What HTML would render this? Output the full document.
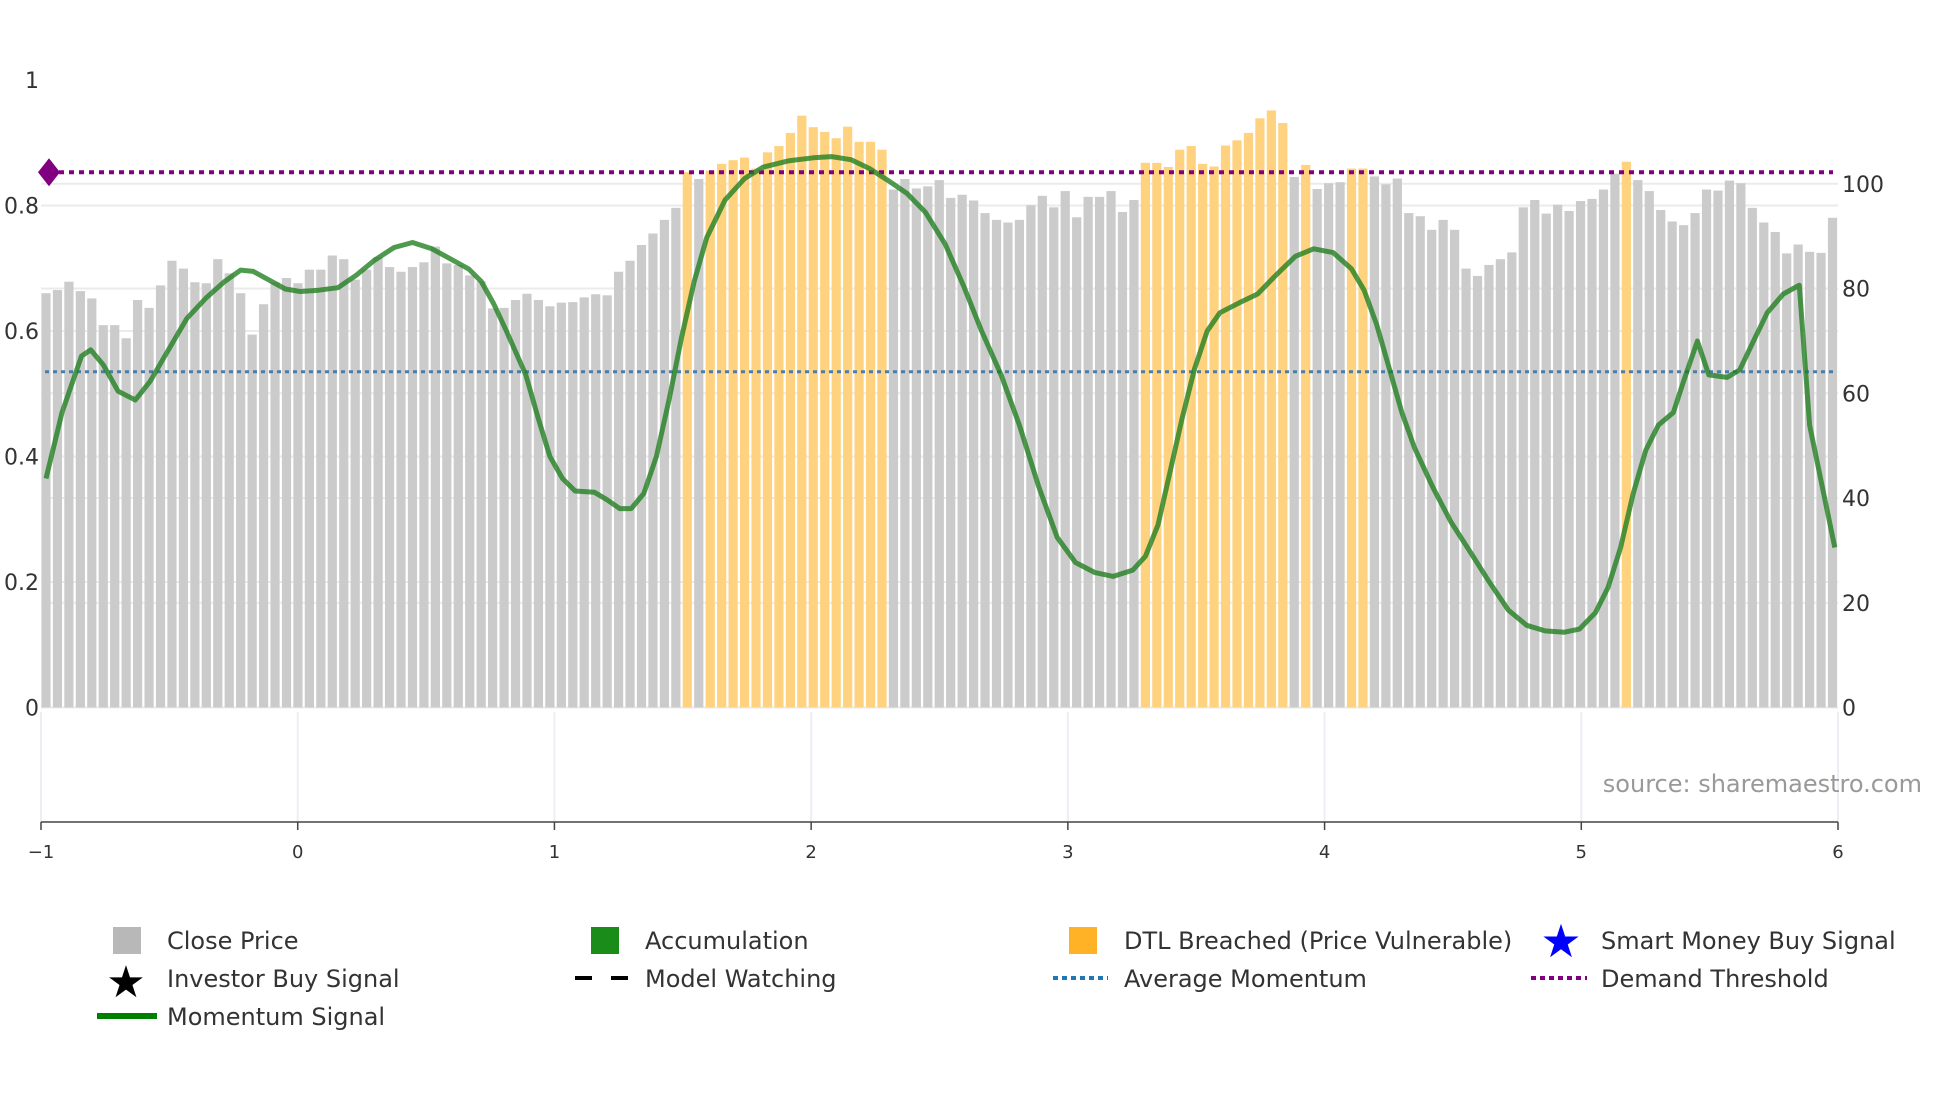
<!DOCTYPE html>
<html><head><meta charset="utf-8"><style>
body{margin:0;background:#fff;}
svg{display:block;font-family:"DejaVu Sans","Liberation Sans",sans-serif;}
</style></head><body>
<svg id="chart" width="1960" height="1102" viewBox="0 0 1960 1102" xmlns="http://www.w3.org/2000/svg">
<g id="grid"></g>
<g id="bars"></g>
<g id="lines"></g>
<g id="axes"></g>
<text x="1922" y="792" text-anchor="end" font-size="24" fill="#999">source: sharemaestro.com</text>
<g id="legend" font-size="24" fill="#333">
  <g><rect x="113" y="927" width="28" height="27" fill="#b8b8b8"/><text x="167" y="949">Close Price</text></g>
  <g><text x="126" y="997" font-size="44" text-anchor="middle" fill="#000">★</text><text x="167" y="987">Investor Buy Signal</text></g>
  <g><line x1="97" y1="1016" x2="157" y2="1016" stroke="#008000" stroke-width="6"/><text x="167" y="1025">Momentum Signal</text></g>
  <g><rect x="591" y="927" width="28" height="27" fill="#1a8c1a"/><text x="645" y="949">Accumulation</text></g>
  <g><line x1="575" y1="978" x2="630" y2="978" stroke="#000" stroke-width="4" stroke-dasharray="17,19"/><text x="645" y="987">Model Watching</text></g>
  <g><rect x="1069" y="927" width="28" height="27" fill="#ffa500" opacity="0.85"/><text x="1124" y="949">DTL Breached (Price Vulnerable)</text></g>
  <g><line x1="1053" y1="978" x2="1108" y2="978" stroke="#1f77b4" stroke-width="4" stroke-dasharray="5,4"/><text x="1124" y="987">Average Momentum</text></g>
  <g><text x="1561" y="957" font-size="46" text-anchor="middle" fill="#0000ff">★</text><text x="1601" y="949">Smart Money Buy Signal</text></g>
  <g><line x1="1531" y1="978" x2="1587" y2="978" stroke="#800080" stroke-width="4" stroke-dasharray="5,4"/><text x="1601" y="987">Demand Threshold</text></g>
</g>
</svg>
<script>
const prices=[79.1,79.7,81.3,79.5,78.1,73.0,73.0,70.5,77.8,76.3,80.6,85.3,83.8,81.2,81.0,85.6,82.9,79.1,71.2,77.0,81.2,82.0,81.0,83.6,83.6,86.3,85.6,81.7,83.6,86.0,84.1,83.2,84.1,85.0,88.0,84.8,84.5,82.5,81.4,76.2,76.3,77.8,79.0,77.8,76.6,77.3,77.4,78.3,78.9,78.7,83.2,85.3,88.3,90.5,93.1,95.4,
102.2,100.9,102.5,103.8,104.5,105.0,102.9,106.0,107.2,109.7,113.0,110.8,109.9,108.7,110.9,108.0,108.0,106.5,
98.9,100.9,99.1,99.5,100.7,97.3,97.9,96.8,
94.4,93.1,92.6,93.1,95.9,97.7,95.5,98.6,93.6,97.5,97.5,98.6,94.6,96.9,104.0,104.0,103.2,106.5,107.2,103.8,103.3,107.3,108.3,109.7,112.5,114.0,111.6,101.3,103.6,99.0,100.1,100.3,102.9,102.9,101.4,99.9,101.0,94.4,93.8,91.2,93.1,91.2,83.8,82.4,84.5,85.6,86.9,95.5,96.9,94.3,96.0,94.8,96.7,97.1,98.9,101.9,104.2,100.7,98.6,95.0,92.8,92.1,94.4,98.9,98.7,100.6,100.1,95.4,92.6,90.8,86.7,88.4,87.0,86.8,93.5];
const dtlIdx=[56,58,59,60,61,62,63,64,65,66,67,68,69,70,71,72,73,96,97,98,99,100,101,102,103,104,105,106,107,108,110,114,115,138];
const momT=[0,1.4,3.1,3.9,5.0,6.3,7.8,9.1,10.7,12.3,14.0,15.6,17.0,18.1,19.5,20.9,22.2,23.8,25.5,27.1,28.7,30.4,32.0,33.7,35.3,36.9,38.0,39.1,40.2,41.9,43.0,44.0,45.1,46.2,47.9,49.0,50.1,51.1,52.2,53.3,54.4,55.5,56.6,57.7,59.3,61.0,62.6,64.8,67.0,68.6,70.3,71.9,73.6,75.2,76.8,78.5,80.1,81.7,83.4,85.0,86.7,88.3,89.9,91.6,93.2,94.9,96.0,97.1,98.1,99.2,100.3,101.4,102.5,104.2,105.8,107.4,109.1,110.7,112.4,114.0,115.1,116.2,117.3,118.4,119.5,121.1,122.7,124.4,126.0,127.7,129.3,130.9,132.6,133.9,135.3,136.4,137.5,138.6,139.7,140.8,142.1,143.0,144.2,145.2,146.8,147.9,149.0,150.3,151.7,153.1,154.0,156.2];
const momV=[.365,.470,.560,.570,.546,.504,.490,.520,.570,.620,.653,.679,.697,.695,.681,.667,.663,.665,.669,.689,.713,.733,.741,.731,.715,.699,.679,.643,.600,.530,.460,.400,.365,.345,.343,.331,.317,.317,.341,.400,.490,.590,.679,.749,.809,.843,.861,.871,.876,.878,.873,.859,.839,.819,.789,.739,.673,.600,.530,.450,.351,.271,.231,.215,.209,.219,.241,.291,.371,.460,.540,.600,.629,.645,.659,.689,.719,.731,.725,.699,.665,.610,.540,.470,.414,.351,.295,.247,.201,.155,.131,.122,.120,.125,.151,.191,.255,.341,.410,.450,.470,.520,.584,.530,.526,.538,.580,.629,.659,.673,.450,.255];
const avgMomentum=0.535;
const demandThreshold=0.853;
const leftTicks=[0,0.2,0.4,0.6,0.8,1];
const leftTickLabels=["0","0.2","0.4","0.6","0.8","1"];
const rightTicks=[0,20,40,60,80,100];
const xTicks=[-1,0,1,2,3,4,5,6];
const xTickLabels=["\u22121","0","1","2","3","4","5","6"];

const NS="http://www.w3.org/2000/svg";
const X0=41,X1=1838,Y0=707.5;
const xAxis=v=>X0+(v+1)*(X1-X0)/7;
const yL=v=>Y0-v*627.5;
const yR=v=>Y0-v*5.2375;
const step=(1832.5-46)/(prices.length-1);
const xIdx=t=>46+t*step;
function mk(tag,attrs,parent){const e=document.createElementNS(NS,tag);for(const k in attrs)e.setAttribute(k,attrs[k]);parent.appendChild(e);return e;}
const grid=document.getElementById('grid'),bars=document.getElementById('bars'),lines=document.getElementById('lines'),axes=document.getElementById('axes');

leftTicks.filter(v=>v<1).forEach(v=>{const l=mk('line',{x1:X0,x2:X1,y1:yL(v),y2:yL(v),stroke:'#ebebeb','stroke-width':2},grid);

});
rightTicks.forEach(v=>{const l=mk('line',{x1:X0,x2:X1,y1:yR(v),y2:yR(v),stroke:'#ebebeb','stroke-width':2},grid);

});
xTicks.forEach(v=>{const l=mk('line',{x1:xAxis(v),x2:xAxis(v),y1:712,y2:822,stroke:'#eceef4','stroke-width':2},grid);

});

prices.forEach((p,i)=>{const o=dtlIdx.includes(i);
const r=mk('rect',{x:xIdx(i)-4.6,y:yR(p),width:9.2,height:Y0-yR(p),fill:o?'#ffd27f':'#cbcbcb'},bars);

});

const avg=mk('line',{x1:X0+4,x2:X1-4,y1:yL(avgMomentum),y2:yL(avgMomentum),stroke:'#4a7ea8','stroke-width':3,'stroke-dasharray':'4,4'},lines);


const dem=mk('line',{x1:X0+8,x2:X1-5,y1:yL(demandThreshold),y2:yL(demandThreshold),stroke:'#800080','stroke-width':4,'stroke-dasharray':'5,5'},lines);


const cy=yL(demandThreshold);
const dm=mk('path',{d:`M${X0+8} ${cy-14} L${X0+19} ${cy} L${X0+8} ${cy+14} L${X0-3} ${cy} Z`,fill:'#800080'},lines);



let d='';momT.forEach((t,i)=>{d+=(i?'L':'M')+xIdx(t).toFixed(1)+' '+yL(momV[i]).toFixed(1);});
const ml=mk('path',{d:d,fill:'none',stroke:'#1e7d1e','stroke-opacity':0.78,'stroke-width':5,'stroke-linejoin':'round'},lines);



const ax=mk('line',{x1:X0,x2:X1,y1:822,y2:822,stroke:'#444','stroke-width':1.5},axes);


xTicks.forEach((v,i)=>{const t=mk('line',{x1:xAxis(v),x2:xAxis(v),y1:822,y2:830,stroke:'#444','stroke-width':1.5},axes);


const tx=mk('text',{x:xAxis(v),y:858,'text-anchor':'middle','font-size':18,fill:'#333'},axes);tx.textContent=xTickLabels[i];

});
leftTicks.forEach((v,i)=>{const tx=mk('text',{x:39,y:yL(v)+8,'text-anchor':'end','font-size':22,fill:'#333'},axes);tx.textContent=leftTickLabels[i];

});
rightTicks.forEach(v=>{const tx=mk('text',{x:1842,y:yR(v)+8,'text-anchor':'start','font-size':22,fill:'#333'},axes);tx.textContent=String(v);

});
</script>
</body></html>
